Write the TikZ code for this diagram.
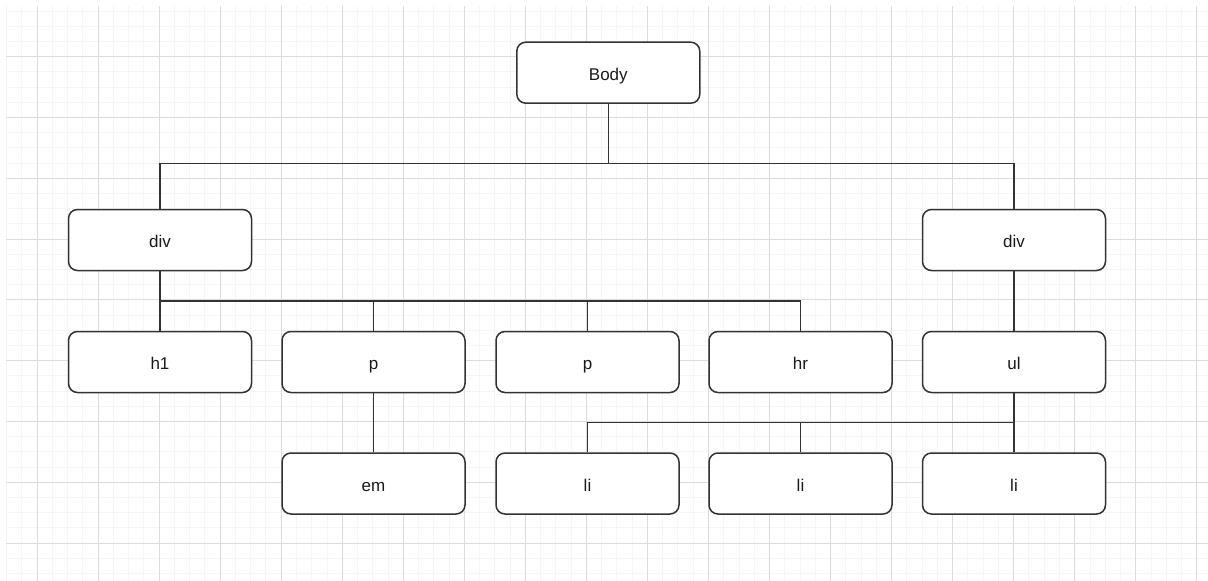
\documentclass[tikz,border=0pt]{standalone}
\usepackage{fontspec}
\setmainfont{Liberation Sans}
\definecolor{gridminor}{HTML}{F5F5F5}
\definecolor{gridmajor}{HTML}{DCDCDC}
\definecolor{boxline}{HTML}{333333}
\definecolor{txt}{HTML}{1A1A1A}
\begin{document}
\begin{tikzpicture}[x=1pt,y=-1pt,
  tbox/.style={draw=boxline, line width=1.5pt, fill=white, rounded corners=9pt,
    minimum width=183pt, minimum height=61pt, inner sep=0pt,
    text height=17pt, text depth=2pt,
    font=\fontsize{17}{20}\selectfont, text=txt},
  conn/.style={draw=boxline, line width=1.6pt}]
\useasboundingbox (0,0) rectangle (1208,581);
\fill[white] (0,0) rectangle (1208,581);
% minor grid
\foreach \i in {0,...,79} {
  \draw[gridminor, line width=0.9pt] ({6.5+15.26*\i},6) -- ({6.5+15.26*\i},581);
}
\foreach \j in {0,...,37} {
  \draw[gridminor, line width=0.9pt] (6,{11.1+15.2*\j}) -- (1208,{11.1+15.2*\j});
}
% major grid
\foreach \i in {0,...,19} {
  \draw[gridmajor, line width=1pt] ({37+61.04*\i},6) -- ({37+61.04*\i},581);
}
\foreach \j in {0,...,8} {
  \draw[gridmajor, line width=1pt] (6,{56.7+60.8*\j}) -- (1208,{56.7+60.8*\j});
}
% nodes
\node[tbox] (body) at (608.3,72.7) {Body};
\node[tbox] (div1) at (160,240) {div};
\node[tbox] (div2) at (1014,240) {div};
\node[tbox] (h1) at (160,362) {h1};
\node[tbox] (p1) at (373.5,362) {p};
\node[tbox] (p2) at (587.5,362) {p};
\node[tbox] (hr) at (800.5,362) {hr};
\node[tbox] (ul) at (1014,362) {ul};
\node[tbox] (em) at (373.5,483.5) {em};
\node[tbox] (li1) at (587.5,483.5) {li};
\node[tbox] (li2) at (800.5,483.5) {li};
\node[tbox] (li3) at (1014,483.5) {li};
% junctions
\coordinate (j1) at (608.3,163.3);
\coordinate (j2) at (160,300.7);
\coordinate (j3) at (1014,422.3);
% connectors
\draw[conn] (body.south) -- (j1);
\draw[conn] (div1.north) |- (j1) -| (div2.north);
\draw[conn] (div1.south) -- (h1.north);
\draw[conn] (j2) -| (hr.north);
\draw[conn] (p1.north) -- (p1.north |- j2);
\draw[conn] (p2.north) -- (p2.north |- j2);
\draw[conn] (p1.south) -- (em.north);
\draw[conn] (div2.south) -- (ul.north);
\draw[conn] (ul.south) -- (li3.north);
\draw[conn] (j3) -| (li1.north);
\draw[conn] (li2.north) -- (li2.north |- j3);
\end{tikzpicture}
\end{document}
